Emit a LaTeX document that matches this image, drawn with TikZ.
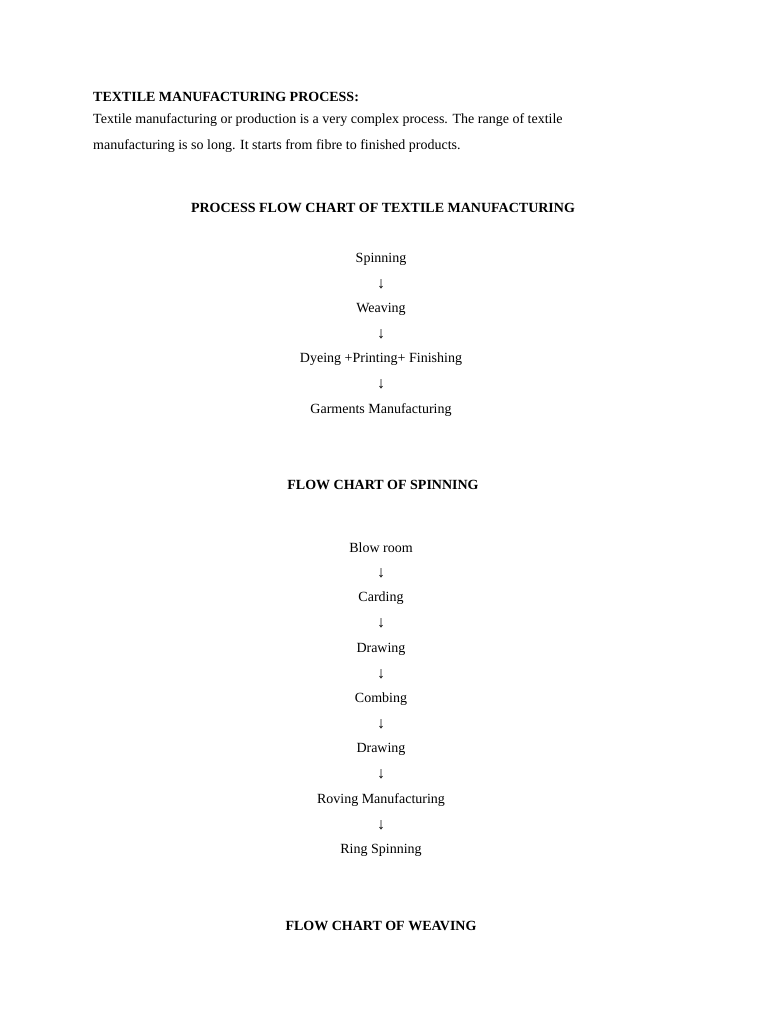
\documentclass[tikz,border=0pt]{standalone}
\usepackage{fontspec}
\setmainfont{Liberation Serif}
\begin{document}
\begin{tikzpicture}[x=1pt,y=-1pt,
  txt/.style={inner sep=0pt,font=\fontsize{14}{16}\selectfont},
  hd/.style={txt,font=\fontsize{14}{16}\selectfont\bfseries},
  arr/.style={txt,font=\fontsize{16}{18}\selectfont}]
\useasboundingbox[fill=white] (0,0) rectangle (768,1024);
\node[hd,anchor=west] (h1) at (93,97) {TEXTILE MANUFACTURING PROCESS:};
\node[txt,anchor=west] (p1) at (93,120) {Textile manufacturing or production is a very complex process. The range of textile};
\node[txt,anchor=west] (p2) at (93,146) {manufacturing is so long. It starts from fibre to finished products.};
\node[hd] (t1) at (383,208) {PROCESS FLOW CHART OF TEXTILE MANUFACTURING};
\node[txt] (a1) at (381,259) {Spinning};
\node[arr] (r1) at (381,284) {↓};
\node[txt] (a2) at (381,309) {Weaving};
\node[arr] (r2) at (381,334) {↓};
\node[txt] (a3) at (381,359) {Dyeing +Printing+ Finishing};
\node[arr] (r3) at (381,384) {↓};
\node[txt] (a4) at (381,410) {Garments Manufacturing};
\node[hd] (t2) at (383,485) {FLOW CHART OF SPINNING};
\node[txt] (b1) at (381,548) {Blow room};
\node[arr] (s1) at (381,573) {↓};
\node[txt] (b2) at (381,598) {Carding};
\node[arr] (s2) at (381,623) {↓};
\node[txt] (b3) at (381,649) {Drawing};
\node[arr] (s3) at (381,674) {↓};
\node[txt] (b4) at (381,699) {Combing};
\node[arr] (s4) at (381,724) {↓};
\node[txt] (b5) at (381,749) {Drawing};
\node[arr] (s5) at (381,774) {↓};
\node[txt] (b6) at (381,800) {Roving Manufacturing};
\node[arr] (s6) at (381,825) {↓};
\node[txt] (b7) at (381,850) {Ring Spinning};
\node[hd] (t3) at (381,926) {FLOW CHART OF WEAVING};
\end{tikzpicture}
\end{document}
